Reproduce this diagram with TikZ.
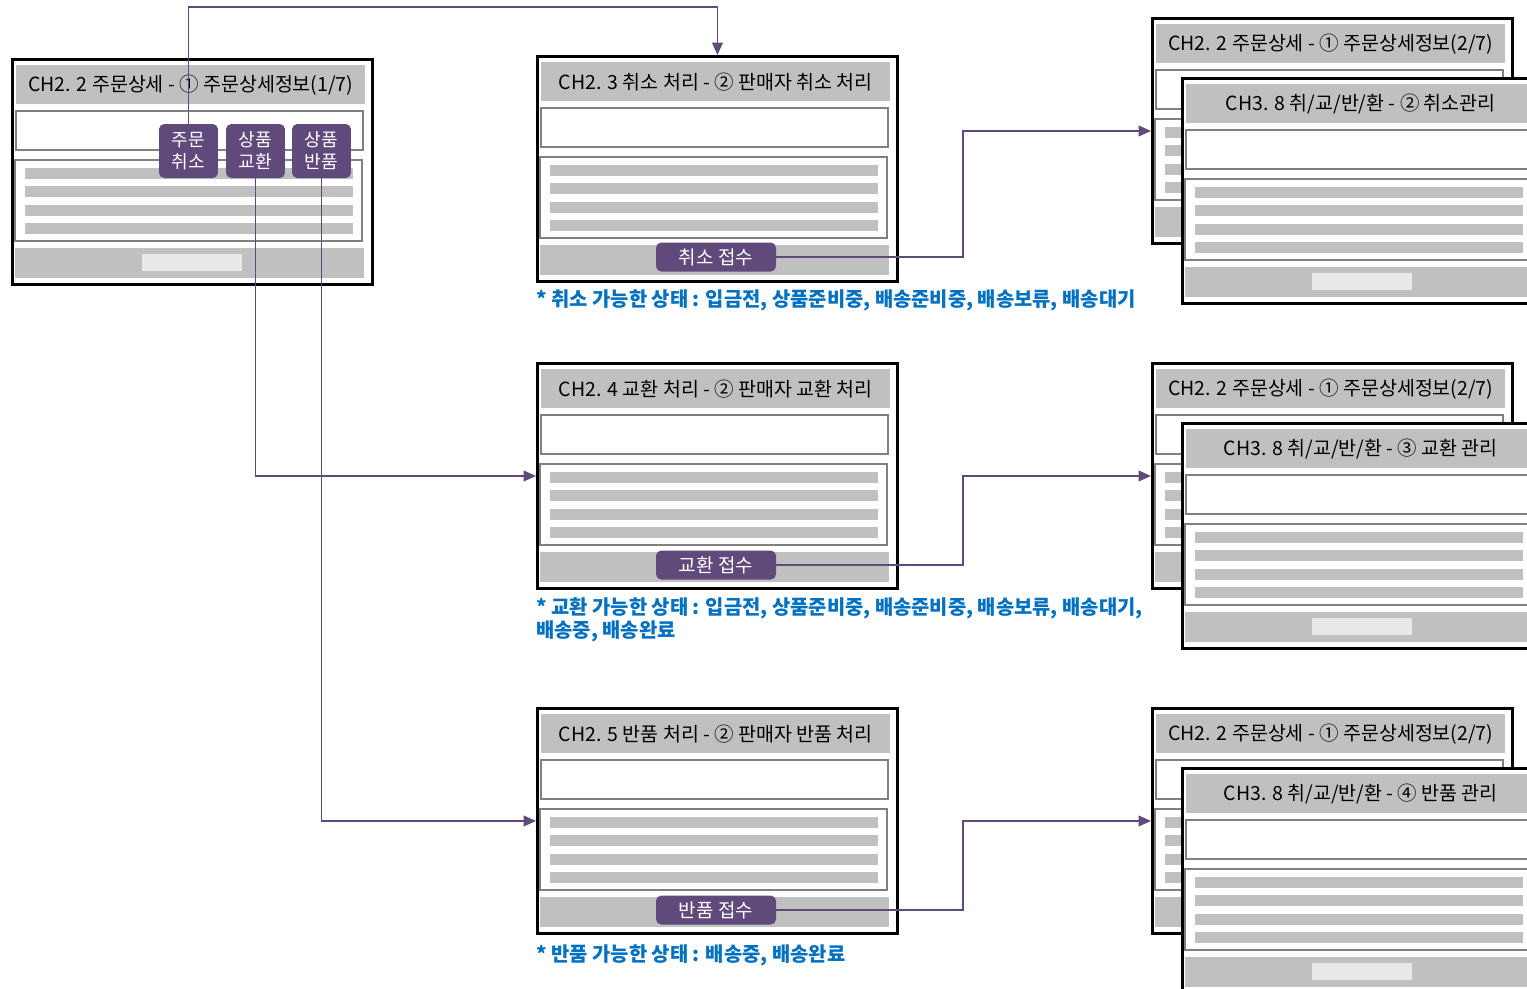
\documentclass[tikz,border=0pt]{standalone}
\usepackage{fontspec}
\setmainfont{Noto Sans CJK KR}
\usetikzlibrary{arrows.meta}
\definecolor{barGray}{RGB}{192,192,192}
\definecolor{boxGray}{RGB}{128,128,128}
\definecolor{lightGray}{RGB}{232,232,232}
\definecolor{btnPurple}{RGB}{96,74,124}
\definecolor{noteBlue}{RGB}{0,112,192}
\tikzset{
        x=0.02cm, y=-0.02cm,
        winframe/.style={draw=black, line width=1.7pt, fill=white, minimum width=7.2cm, minimum height=4.5cm, inner sep=0pt, anchor=north west},
        titlebar/.style={fill=barGray, minimum width=6.98cm, minimum height=0.78cm, inner sep=0pt, anchor=north west, font=\fontsize{11.1}{12}\selectfont},
        fieldbox/.style={draw=boxGray, line width=1.1pt, fill=white},
        rowbar/.style={fill=barGray},
        lightbtn/.style={fill=lightGray},
        purplebtn/.style={fill=btnPurple, text=white, rounded corners=3pt, inner sep=0pt, align=center, font=\fontsize{10.3}{12.5}\selectfont},
        acceptbtn/.style={purplebtn, minimum width=2.4cm, minimum height=0.58cm, font=\fontsize{10.8}{12}\selectfont},
        arrowline/.style={draw=btnPurple, line width=1.1pt, -{Triangle[length=7pt, width=6pt]}},
        notetext/.style={text=noteBlue, inner sep=0pt, anchor=west, align=left, font=\fontsize{11.3}{13}\selectfont\bfseries},
        screen/.pic={
          \node[winframe] (-frame) at (0,0) {};
          \node[titlebar] (-title) at (5,7) {#1};
          \draw[fieldbox] (5,53) rectangle (352,92);
          \draw[fieldbox] (4,102) rectangle (351,183);
          \foreach \y in {110,128,147,165}
            \fill[rowbar] (14,\y) rectangle (342,\y+11);
          \fill[rowbar] (4,190) rectangle (353,220);
          \fill[lightbtn] (131,196) rectangle (231,213);
        }
          }

\begin{document}
\begin{tikzpicture}
        \useasboundingbox (0,0) rectangle (1527,988);
        \clip (0,0) rectangle (1527,988);

        % order detail screen
        \pic (w1) at (11,58) {screen={CH2. 2 주문상세 - ① 주문상세정보(1/7)}};
        \node[purplebtn, minimum width=1.18cm, minimum height=1.08cm] (b1) at (188.5,151) {주문\\취소};
        \node[purplebtn, minimum width=1.18cm, minimum height=1.08cm] (b2) at (255.5,151) {상품\\교환};
        \node[purplebtn, minimum width=1.18cm, minimum height=1.08cm] (b3) at (321.5,151) {상품\\반품};

        % seller screens
        \pic (w2) at (536,55) {screen={CH2. 3 취소 처리 - ② 판매자 취소 처리}};
        \pic (w3) at (536,362) {screen={CH2. 4 교환 처리 - ② 판매자 교환 처리}};
        \pic (w4) at (536,707) {screen={CH2. 5 반품 처리 - ② 판매자 반품 처리}};
        \node[acceptbtn] (a1) at (716,257) {취소 접수};
        \node[acceptbtn] (a2) at (716,565) {교환 접수};
        \node[acceptbtn] (a3) at (716,910) {반품 접수};

        \node[notetext] (n1) at (536,300) {* 취소 가능한 상태 : 입금전, 상품준비중, 배송준비중, 배송보류, 배송대기};
        \node[notetext, anchor=north west] (n2) at (536,597) {* 교환 가능한 상태 : 입금전, 상품준비중, 배송준비중, 배송보류, 배송대기,\\배송중, 배송완료};
        \node[notetext] (n3) at (536,955) {* 반품 가능한 상태 : 배송중, 배송완료};

        % result screens
        \pic (r1) at (1151,17) {screen={CH2. 2 주문상세 - ① 주문상세정보(2/7)}};
        \pic (f1) at (1181,77) {screen={CH3. 8 취/교/반/환 - ② 취소관리}};
        \pic (r2) at (1151,362) {screen={CH2. 2 주문상세 - ① 주문상세정보(2/7)}};
        \pic (f2) at (1181,422) {screen={CH3. 8 취/교/반/환 - ③ 교환 관리}};
        \pic (r3) at (1151,707) {screen={CH2. 2 주문상세 - ① 주문상세정보(2/7)}};
        \pic (f3) at (1181,767) {screen={CH3. 8 취/교/반/환 - ④ 반품 관리}};

        % connectors
        \draw[arrowline] (b1.north) -- ++(0,-117) -| (w2-frame.north);
        \draw[arrowline] (b2.south) |- (w3-frame.west);
        \draw[arrowline] (b3.south) |- (w4-frame.west);
        \draw[arrowline] (a1.east) -- ++(187,0) |- (r1-frame.west);
        \draw[arrowline] (a2.east) -- ++(187,0) |- (r2-frame.west);
        \draw[arrowline] (a3.east) -- ++(187,0) |- (r3-frame.west);
      \end{tikzpicture}
\end{document}
